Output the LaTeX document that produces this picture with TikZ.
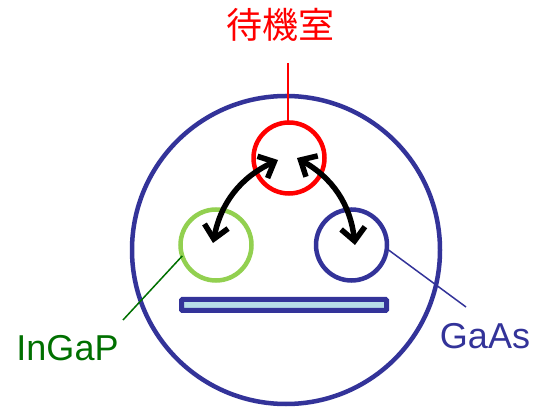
\documentclass[tikz,border=0pt]{standalone}
\usepackage{fontspec}
\setmainfont{Liberation Sans}
\newfontfamily\cjk{Noto Sans CJK JP}
\usetikzlibrary{arrows.meta}
\definecolor{navy}{RGB}{51,51,153}
\definecolor{lgreen}{RGB}{146,208,80}
\definecolor{dgreen}{RGB}{0,112,0}
\definecolor{lblue}{RGB}{183,222,232}
\begin{document}
\begin{tikzpicture}[x=1pt,y=-1pt,
  ring/.style={circle,draw,line width=4.5pt,inner sep=0pt,outer sep=0pt,minimum size=#1},
  dblarrow/.style={{Straight Barb[length=13pt,width=24pt]}-{Straight Barb[length=13pt,width=24pt]}, line width=5.5pt, black},
  lbl/.style={font=\fontsize{36}{40}\selectfont, anchor=base, inner sep=0pt},
  leader/.style={line width=1.5pt}]
\useasboundingbox (0,0) rectangle (538,411);
\node[ring=308pt, draw=navy] (chamber) at (286,250) {};
\node[ring=71pt, draw=red] (wait) at (289,158) {};
\node[ring=71pt, draw=lgreen] (ingap) at (216,245) {};
\node[ring=71pt, draw=navy] (gaas) at (351.5,245) {};
\node[draw=navy, fill=lblue, line width=5pt, minimum width=205pt, minimum height=11pt, inner sep=0pt, outer sep=0pt, rounded corners=1pt] (wafer) at (284,305) {};
% labels
\node[lbl, text=red] (tlabel) at (280,39) {\cjk 待機室};
\coordinate (tend) at (288,63);
\draw[leader, red] (tend) -- (tend |- wait.north);
\node[lbl, text=dgreen] (lin) at (67.5,361) {InGaP};
\coordinate (lend) at (123,320);
\draw[leader, dgreen] (lend) -- (ingap.198);
\node[lbl, text=navy] (lga) at (485,349) {GaAs};
\coordinate (gend) at (466,307);
\draw[leader, navy] (gend) -- (gaas.354);
% transfer arrows
\coordinate (a1) at (213,243);
\coordinate (a2) at (278,160);
\draw[dblarrow] (a1) to[bend left=27] (a2);
\coordinate (b1) at (297,158);
\coordinate (b2) at (355,245);
\draw[dblarrow] (b1) to[bend left=27] (b2);
\end{tikzpicture}
\end{document}
